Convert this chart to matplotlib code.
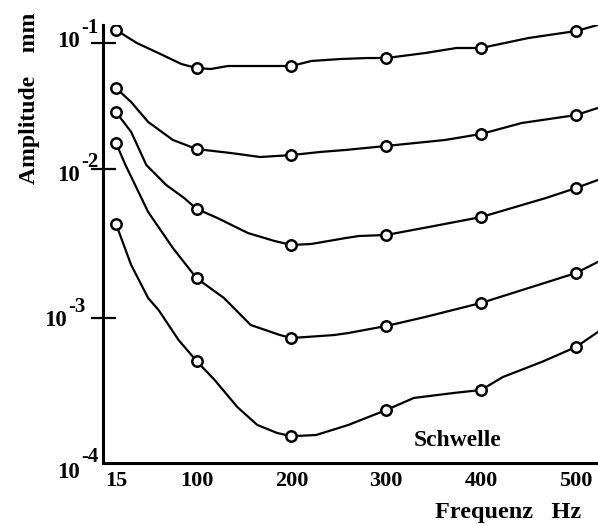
import numpy as np
import matplotlib.pyplot as plt

plt.rcParams['font.family'] = ['Liberation Serif', 'DejaVu Serif']
plt.rcParams['font.weight'] = 'bold'

# frequencies of the measured points (Hz)
freqs = [15, 100, 200, 300, 400, 500]

# measured amplitudes (mm), one list per curve, top to bottom
pts1 = [0.127, 0.0633, 0.0657, 0.0760, 0.0913, 0.1245]
pts2 = [0.0439, 0.0144, 0.0129, 0.01524, 0.01897, 0.0268]
pts3 = [0.0283, 0.00540, 0.00309, 0.00361, 0.00476, 0.00745]
pts4 = [0.0161, 0.00185, 0.000728, 0.000881, 0.001262, 0.002004]
pts5 = [0.00428, 0.000505, 0.000153, 0.000232, 0.000319, 0.000631]

# drawn curves
f1 = [15, 37, 64, 84, 100, 115, 133, 182, 200, 221, 251, 280, 300, 341, 374, 400, 450, 500, 523]
a1 = [0.127, 0.100, 0.0804, 0.0681, 0.0633, 0.0622, 0.0657, 0.0657, 0.0657, 0.0720, 0.0746,
      0.0760, 0.0760, 0.0833, 0.0913, 0.0913, 0.1096, 0.1245, 0.139]
f2 = [15, 31, 49, 75, 100, 136, 167, 200, 230, 257, 300, 362, 400, 443, 500, 523]
a2 = [0.0439, 0.0340, 0.0236, 0.0170, 0.0144, 0.0134, 0.01245, 0.0129, 0.01365, 0.01416,
      0.01524, 0.0170, 0.01897, 0.0232, 0.0268, 0.0305]
f3 = [15, 31, 47, 68, 87, 100, 122, 154, 182, 200, 221, 257, 271, 300, 350, 400, 468, 500, 523]
a3 = [0.0283, 0.0197, 0.01076, 0.00781, 0.00638, 0.00540, 0.00469, 0.00372, 0.00329, 0.00309,
      0.00314, 0.00344, 0.00355, 0.00361, 0.00414, 0.00476, 0.00638, 0.00745, 0.00844]
f4 = [15, 25, 49, 75, 100, 129, 157, 188, 200, 245, 260, 300, 341, 400, 450, 500, 523]
a4 = [0.0161, 0.01076, 0.00514, 0.00295, 0.00185, 0.00136, 0.000895, 0.000763, 0.000728,
      0.000763, 0.000788, 0.000881, 0.001016, 0.001262, 0.00159, 0.002004, 0.002377]
f5 = [15, 31, 49, 60, 81, 100, 119, 143, 164, 185, 200, 226, 260, 300, 329, 371, 400, 423, 464, 500, 523]
a5 = [0.00428, 0.00227, 0.00136, 0.00113, 0.000705, 0.000505, 0.000374, 0.000243, 0.000183,
      0.000161, 0.000153, 0.000156, 0.000183, 0.000232, 0.000281, 0.000304, 0.000319, 0.000392,
      0.000498, 0.000631, 0.000800]

decades = [1e-4, 1e-3, 1e-2, 1e-1]
exponents = ['-4', '-3', '-2', '-1']

# the original log axis is hand drawn: decades are not evenly spaced
dec_log = [-5, -4, -3, -2, -1, 0]
dec_pos = [-145, 0, 145, 294, 420, 546]


def fwd(y):
    y = np.maximum(np.asarray(y, dtype=float), 1e-12)
    return np.interp(np.log10(y), dec_log, dec_pos)


def inv(p):
    return 10 ** np.interp(p, dec_pos, dec_log)


fig = plt.figure(figsize=(5.98, 5.24), dpi=100)
ax = fig.add_axes([0.1722, 0.1164, 0.8278, 0.8359])

for f, a, p in [(f1, a1, pts1), (f2, a2, pts2), (f3, a3, pts3), (f4, a4, pts4), (f5, a5, pts5)]:
    ax.plot(f, a, color='black', lw=1.6, zorder=2)
    ax.plot(freqs, p, 'o', ms=7.5, mfc='white', mec='black', mew=1.8, zorder=3)

ax.set_yscale('function', functions=(fwd, inv))
ax.set_ylim(1e-4, 0.139)
ax.set_xlim(1.3, 523.2)

ax.spines['top'].set_visible(False)
ax.spines['right'].set_visible(False)
ax.spines['left'].set_linewidth(2.2)
ax.spines['bottom'].set_linewidth(2.2)

ax.set_xticks(freqs)
ax.set_xticklabels([str(v) for v in freqs], fontsize=16, fontweight='bold')
ax.tick_params(axis='x', length=0, pad=6)

ax.set_yticks(decades[1:])
ax.set_yticklabels([])
ax.yaxis.set_minor_locator(plt.NullLocator())
ax.tick_params(axis='y', direction='inout', length=18, width=1.6)

# "10" with a raised exponent, placed as on the original
base_dx = [-23, -36, -23, -23]
base_dy = [-9, -2, -6, 2]
exp_dy = [6, 11, 7, 15]
ytr = ax.get_yaxis_transform()
for v, e, dx, dy, ey in zip(decades, exponents, base_dx, base_dy, exp_dy):
    ax.annotate('10', xy=(0, v), xycoords=ytr, xytext=(dx, dy), textcoords='offset pixels',
                ha='right', va='center', fontsize=16.5, fontweight='bold', annotation_clip=False)
    ax.annotate(e, xy=(0, v), xycoords=ytr, xytext=(dx + 1, ey), textcoords='offset pixels',
                ha='left', va='center', fontsize=15, fontweight='bold', annotation_clip=False)

ax.text(0.717, 0.0525, 'Schwelle', transform=ax.transAxes, ha='center', va='center',
        fontsize=17, fontweight='bold')

fig.text(30 / 598, 1 - 98 / 524, 'Amplitude    mm', rotation=90, ha='center', va='center',
         fontsize=17, fontweight='bold')
fig.text(435 / 598, 1 - 518 / 524, 'Frequenz   Hz', ha='left', va='baseline',
         fontsize=17.5, fontweight='bold')

fig.savefig('out.png', dpi=100)
